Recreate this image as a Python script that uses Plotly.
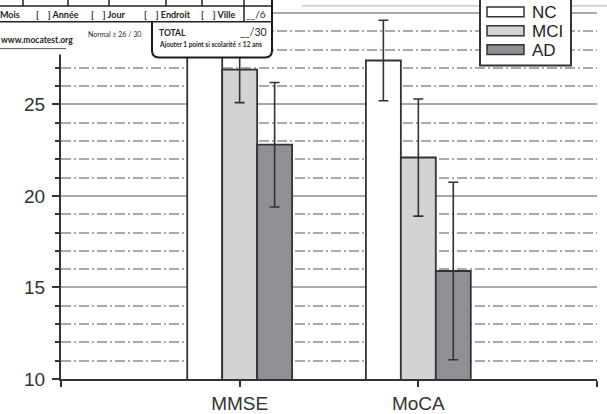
import plotly.graph_objects as go

# ---- data -------------------------------------------------------------
categories = ["MMSE", "MoCA"]
groups = ["NC", "MCI", "AD"]
nc_mean = [29.1, 27.4]
nc_sd = [1.0, 2.2]
mci_mean = [26.9, 22.1]
mci_sd = [1.8, 3.2]
ad_mean = [22.8, 15.9]
ad_sd = [3.4, 4.85]
y_ticks = [10, 15, 20, 25, 30]
y_tick_labels = ["10", "15", "20", "25", ""]  # the 30 label sits under the sheet strip
fills = ["#ffffff", "#d2d3d5", "#8f9094"]

means = [nc_mean, mci_mean, ad_mean]
sds = [nc_sd, mci_sd, ad_sd]

# ---- page geometry ----------------------------------------------------
W, H = 607, 414
ML, MR, MT, MB = 61, 10, 0, 32
PW, PH = W - ML - MR, H - MT - MB
INK = "#333333"
GRID = "#a9a9a9"


def px(x):
    return (x - ML) / PW


def py(y):
    return 1 - (y - MT) / PH


fig = go.Figure()
xpos = list(range(len(categories)))
for name, m, s, c in zip(groups, means, sds, fills):
    fig.add_trace(go.Bar(
        x=xpos, y=m, name=name,
        marker=dict(color=c, line=dict(color=INK, width=1.8)),
        error_y=dict(type="data", array=s, color=INK, thickness=1.6, width=5),
        showlegend=False,
    ))

fig.update_layout(
    width=W, height=H,
    margin=dict(l=ML, r=MR, t=MT, b=MB),
    paper_bgcolor="white", plot_bgcolor="white",
    barmode="group", bargap=0.413, bargroupgap=0,
    font=dict(family="Liberation Sans, Arial, sans-serif", color=INK),
)

fig.update_xaxes(
    range=[-1, 2],
    tickmode="array",
    tickvals=[-1] + xpos + [2],
    ticktext=[""] + categories + [""],
    ticks="outside", ticklen=6, tickwidth=2, tickcolor=INK,
    showline=True, linewidth=2, linecolor=INK,
    showgrid=False, zeroline=False,
    tickfont=dict(size=19, color=INK),
)

fig.update_yaxes(
    range=[10, 10 + PH / 18.45],
    tickmode="array", tickvals=y_ticks, ticktext=y_tick_labels,
    ticks="outside", ticklen=7, tickwidth=2, tickcolor=INK,
    showline=True, linewidth=2, linecolor=INK,
    showgrid=True, gridcolor=GRID, gridwidth=1.5,
    zeroline=False,
    tickfont=dict(size=19, color=INK),
    ticklabelstandoff=3,
    minor=dict(dtick=1, tick0=10, ticks="outside", ticklen=4, tickwidth=1.5,
               tickcolor=INK, showgrid=True, gridcolor=GRID, gridwidth=1.5,
               griddash="10px,3px,2px,3px"),
)

shapes = []


def rect(x0, y0, x1, y1, fill, line_color=None, lw=0):
    shapes.append(dict(type="rect", xref="paper", yref="paper", layer="above",
                       x0=px(x0), x1=px(x1), y0=py(y0), y1=py(y1),
                       fillcolor=fill,
                       line=dict(color=line_color or fill, width=lw)))


def seg(x0, y0, x1, y1, color="#222", lw=1.5):
    shapes.append(dict(type="line", xref="paper", yref="paper", layer="above",
                       x0=px(x0), x1=px(x1), y0=py(y0), y1=py(y1),
                       line=dict(color=color, width=lw)))


def pt(x, y):
    return f"{px(x):.5f},{py(y):.5f}"


# ---- score-sheet footer strip (top left) ------------------------------
rect(-2, -2, 152, 55, "white")
total_fill = ("M" + pt(152, 22) + " L" + pt(152, 51) + " Q" + pt(152, 58) + " " + pt(159, 58)
              + " L" + pt(265, 58) + " Q" + pt(272, 58) + " " + pt(272, 51)
              + " L" + pt(272, -2) + " L" + pt(152, -2) + " Z")
shapes.append(dict(type="path", xref="paper", yref="paper", layer="above",
                   path=total_fill, fillcolor="white", line=dict(width=0)))
total_edge = ("M" + pt(152, 22) + " L" + pt(152, 51) + " Q" + pt(152, 58) + " " + pt(159, 58)
              + " L" + pt(265, 58) + " Q" + pt(272, 58) + " " + pt(272, 51)
              + " L" + pt(272, -2))
shapes.append(dict(type="path", xref="paper", yref="paper", layer="above",
                   path=total_edge, fillcolor="rgba(0,0,0,0)",
                   line=dict(color="#1a1a1a", width=2)))
seg(-2, 6, 272, 6)
seg(-2, 22, 272, 22)
for xd in [23, 68, 109, 166, 202]:
    seg(xd, -2, xd, 6)
seg(244, -2, 244, 22)
seg(0, 49, 66, 49, color="#555", lw=1)

# thin rule across the top right
seg(302, 6, 607, 6, color="#bdbdbd", lw=1.2)

# ---- legend box -------------------------------------------------------
rect(480, -5, 571, 66, "white", INK, 2)
sw_y = [(7, 17), (26, 36), (45, 55)]
for (y0, y1), c in zip(sw_y, fills):
    rect(487, y0, 524, y1, c, INK, 1.5)

annotations = []


def txt(s, x, y, size, bold=True, family="Lato", anchor="left", color="#1e1e1e"):
    annotations.append(dict(text=s, xref="paper", yref="paper", x=px(x), y=py(y),
                            xanchor=anchor, yanchor="middle", showarrow=False,
                            font=dict(family=family, size=size, color=color,
                                      weight="bold" if bold else "normal")))


for name, (y0, y1) in zip(groups, sw_y):
    txt(name, 530, (y0 + y1) / 2 + 0.5, 17, bold=False,
        family="Liberation Sans, Arial, sans-serif", color="#222")

# sheet labels
txt("Mois", -2, 15, 9)
for xb, word in [(34, "Année"), (89, "Jour"), (142, "Endroit"), (199, "Ville")]:
    txt("[\u2002\u2002] " + word, xb, 15, 9)
txt("__/6", 268, 14, 10, bold=False, anchor="right")
txt("www.mocatest.org", -1, 40, 8.5)
txt("Normal ≥ 26 / 30", 143, 34, 7, bold=False, anchor="right")
txt("TOTAL", 157, 33, 8.5)
txt("__/30", 269, 32, 10.5, bold=False, anchor="right")
txt("Ajouter 1 point si scolarité ≤ 12 ans", 157, 44.5, 6.5)

fig.update_layout(shapes=shapes, annotations=annotations)
fig.write_html("out.html")
